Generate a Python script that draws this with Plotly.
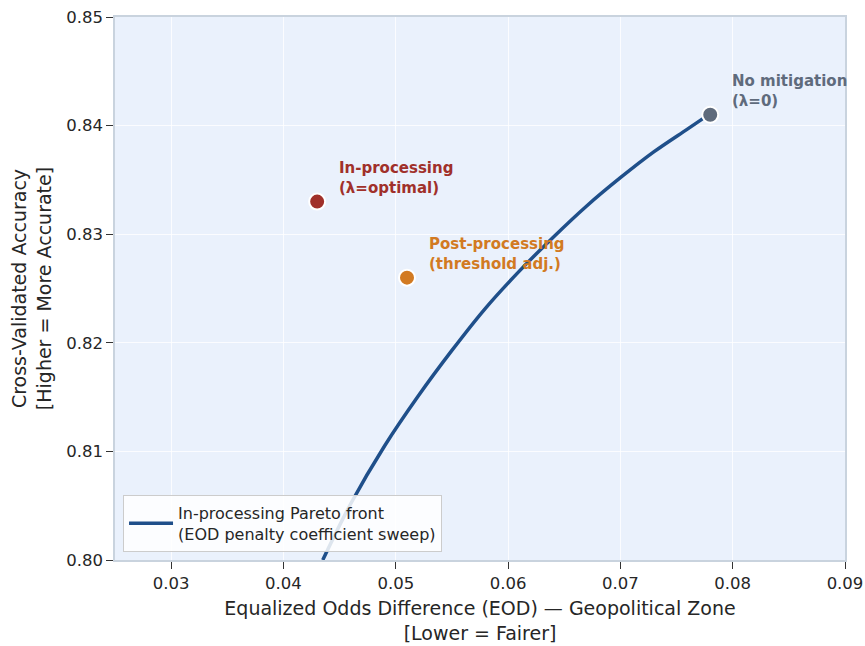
import plotly.graph_objects as go

# Pareto front
front_eod = [0.0435, 0.0460, 0.0490, 0.0520, 0.0550, 0.0580, 0.0610,
             0.0640, 0.0670, 0.0700, 0.0730, 0.0760, 0.0780]
front_acc = [0.8000, 0.8052, 0.8105, 0.8151, 0.8193, 0.8232, 0.8266,
             0.8297, 0.8326, 0.8352, 0.8376, 0.8397, 0.8411]

point_names = ["In-processing<br>(λ=optimal)", "Post-processing<br>(threshold adj.)",
               "No mitigation<br>(λ=0)"]
point_eod = [0.043, 0.051, 0.078]
point_acc = [0.833, 0.826, 0.841]
point_colors = ["#A0302A", "#D27A22", "#5F6B7C"]

x_ticks = [0.03, 0.04, 0.05, 0.06, 0.07, 0.08, 0.09]
y_ticks = [0.80, 0.81, 0.82, 0.83, 0.84, 0.85]

fig = go.Figure()
fig.add_trace(go.Scatter(
    x=front_eod, y=front_acc, mode="lines", line=dict(color="#1F4F8A", width=3.5, shape="spline"),
    name="In-processing Pareto front<br>(EOD penalty coefficient sweep)"))

for n, x, y, c in zip(point_names, point_eod, point_acc, point_colors):
    fig.add_trace(go.Scatter(
        x=[x], y=[y], mode="markers", showlegend=False,
        marker=dict(size=16, color=c, line=dict(color="white", width=2))))
    fig.add_annotation(x=x, y=y, text="<b>" + n + "</b>", showarrow=False,
                       xanchor="left", yanchor="bottom", xshift=20, yshift=3,
                       align="left", font=dict(size=15, color=c, family="DejaVu Sans"))

axis_common = dict(showgrid=True, gridcolor="rgba(255,255,255,0.8)", zeroline=False,
                   showline=True, linecolor="#C9D3DE", linewidth=1.5, mirror=True,
                   ticks="outside", ticklen=7, tickcolor="#333", tickformat=".2f",
                   automargin=False, ticklabeloverflow="allow",
                   tickfont=dict(size=16.5, color="#262626"))

fig.update_layout(
    width=865, height=646,
    margin=dict(l=115, r=20, t=17, b=86),
    paper_bgcolor="white", plot_bgcolor="#EAF1FC",
    font=dict(family="DejaVu Sans", size=15, color="#262626"),
    showlegend=True,
    legend=dict(x=0.011, y=0.015, xanchor="left", yanchor="bottom", itemwidth=44,
                bgcolor="rgba(255,255,255,0.85)", bordercolor="#CCCCCC", borderwidth=1,
                font=dict(size=16, color="#262626")),
    xaxis=dict(range=[0.025, 0.09], tickvals=x_ticks, **axis_common,
               title=dict(text="Equalized Odds Difference (EOD) — Geopolitical Zone<br>[Lower = Fairer]",
                          font=dict(size=19), standoff=10)),
    yaxis=dict(range=[0.80, 0.85], tickvals=y_ticks, **axis_common,
               title=dict(text="Cross-Validated Accuracy<br>[Higher = More Accurate]",
                          font=dict(size=19), standoff=10)),
)

fig.write_html("out.html", config={"displayModeBar": False},
               post_script="document.body.style.margin='0';document.body.style.overflow='hidden';")
